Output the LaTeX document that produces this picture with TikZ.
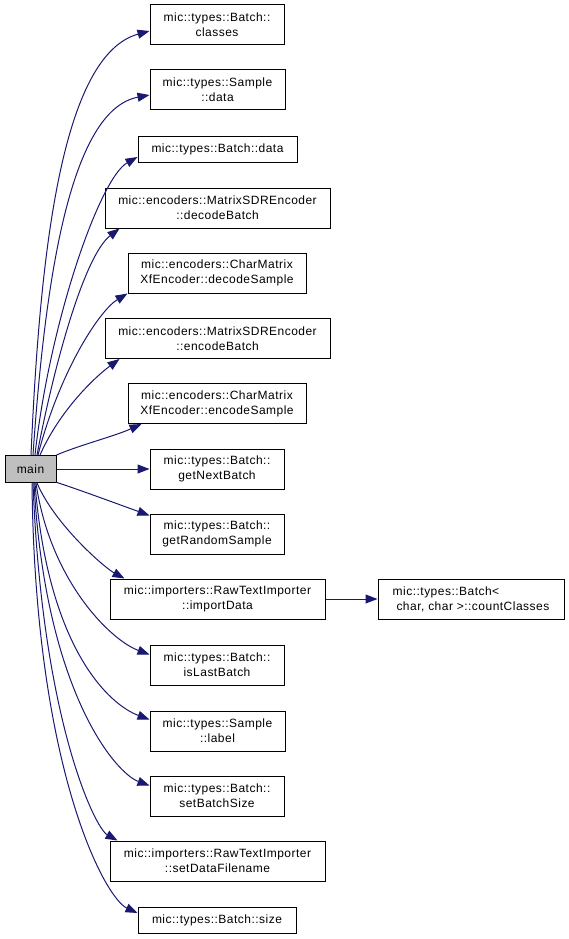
\documentclass[tikz,border=0pt]{standalone}
\usepackage{fontspec}
\setmainfont[LetterSpace=4]{Liberation Sans}
\usetikzlibrary{arrows.meta,calc}
\definecolor{edgecol}{HTML}{191970}
\definecolor{maingray}{HTML}{BFBFBF}
\tikzset{
  box/.style={draw=black, fill=white, line width=1pt, inner sep=0pt, align=center,
    font=\fontsize{12}{15}\selectfont},
  edge/.style={draw=edgecol, line width=1pt, -{Triangle[length=12pt,width=9pt]}}
}
\begin{document}
\begin{tikzpicture}[x=1pt,y=-1pt]
\useasboundingbox (0,0) rectangle (568,939);
\node[box,minimum width=134pt,minimum height=40pt] (classes) at (217,25) {mic::types::Batch::\\classes};
\node[box,minimum width=135pt,minimum height=40pt] (sdata) at (217.5,90) {mic::types::Sample\\::data};
\node[box,minimum width=159pt,minimum height=26pt] (bdata) at (217.5,149) {mic::types::Batch::data};
\node[box,minimum width=225pt,minimum height=40pt] (decb) at (217.5,208) {mic::encoders::MatrixSDREncoder\\::decodeBatch};
\node[box,minimum width=178pt,minimum height=40pt] (decs) at (217,273) {mic::encoders::CharMatrix\\XfEncoder::decodeSample};
\node[box,minimum width=225pt,minimum height=40pt] (encb) at (217.5,338.5) {mic::encoders::MatrixSDREncoder\\::encodeBatch};
\node[box,minimum width=178pt,minimum height=40pt] (encs) at (217,403.5) {mic::encoders::CharMatrix\\XfEncoder::encodeSample};
\node[box,fill=maingray,minimum width=51pt,minimum height=27pt] (main) at (30.5,469) {main};
\node[box,minimum width=134pt,minimum height=40pt] (gnb) at (217,469) {mic::types::Batch::\\getNextBatch};
\node[box,minimum width=134pt,minimum height=40pt] (grs) at (217,534) {mic::types::Batch::\\getRandomSample};
\node[box,minimum width=215pt,minimum height=40pt] (imp) at (217.5,599) {mic::importers::RawTextImporter\\::importData};
\node[box,minimum width=134pt,minimum height=40pt] (ilb) at (217,665) {mic::types::Batch::\\isLastBatch};
\node[box,minimum width=135pt,minimum height=40pt] (lab) at (217.5,731) {mic::types::Sample\\::label};
\node[box,minimum width=134pt,minimum height=40pt] (sbs) at (217,796) {mic::types::Batch::\\setBatchSize};
\node[box,minimum width=215pt,minimum height=40pt] (sdf) at (217.5,861) {mic::importers::RawTextImporter\\::setDataFilename};
\node[box,minimum width=158pt,minimum height=26pt] (size) at (217,920) {mic::types::Batch::size};
\node[box,align=left,minimum width=186pt,minimum height=40pt] (cc) at (471,599) {mic::types::Batch<\\\ char, char >::countClasses};

\draw[edge] ($(main.north)+(0.5,0)$) .. controls (40,250) and (62,55) .. ($(classes.west)+(0,6)$);
\draw[edge] ($(main.north)+(2.5,0)$) .. controls (45,280) and (70,110) .. ($(sdata.west)+(0,5)$);
\draw[edge] ($(main.north)+(4.5,0)$) .. controls (50,320) and (100,178) .. ($(bdata.west)+(0,8)$);
\draw[edge] ($(main.north)+(6.5,0)$) .. controls (55,360) and (85,255) .. ($(decb.south west)+(15,0)$);
\draw[edge] ($(main.north)+(7.5,0)$) .. controls (60,370) and (100,310) .. (decs.south west);
\draw[edge] ($(main.north)+(9.5,0)$) .. controls (60,410) and (95,377) .. ($(encb.south west)+(15,0)$);
\draw[edge] (main.north east) .. controls (80,445) and (115,436) .. ($(encs.south west)+(14,0)$);
\draw[edge] (main.east) -- (gnb.west);
\draw[edge] ($(main.south east)+(-1,-1)$) .. controls (80,490) and (115,503) .. ($(grs.north west)+(0,2)$);
\draw[edge] ($(main.south)+(6.5,0)$) .. controls (55,525) and (105,568) .. ($(imp.north west)+(15,0)$);
\draw[edge] ($(main.south)+(5.5,0)$) .. controls (50,580) and (110,640) .. ($(ilb.north west)+(0,10)$);
\draw[edge] ($(main.south)+(4.5,0)$) .. controls (48,650) and (110,705) .. ($(lab.north west)+(0,9)$);
\draw[edge] ($(main.south)+(3.5,0)$) .. controls (45,690) and (115,773) .. ($(sbs.north west)+(0,10)$);
\draw[edge] ($(main.south)+(2.5,0)$) .. controls (42,720) and (95,828) .. ($(sdf.north west)+(8,0)$);
\draw[edge] ($(main.south)+(1.5,0)$) .. controls (35,770) and (105,898) .. ($(size.west)+(0,-7)$);
\draw[edge] (imp.east) -- (cc.west);
\end{tikzpicture}
\end{document}
